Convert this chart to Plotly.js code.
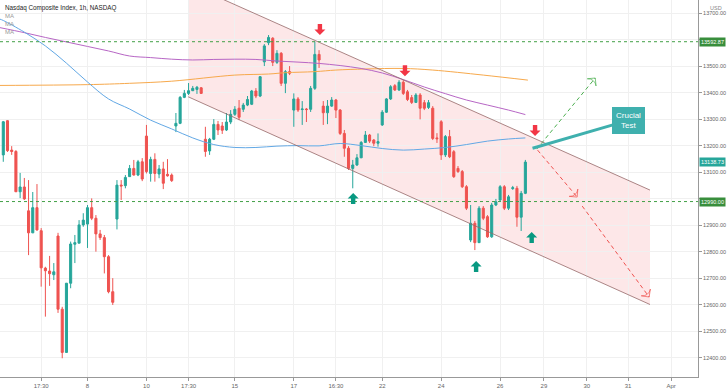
<!DOCTYPE html>
<html>
<head>
<meta charset="utf-8">
<script src="https://cdn.plot.ly/plotly-3.0.1.min.js"></script>
<style>
html,body{margin:0;padding:0;background:#fff;}
#chart{width:728px;height:391px;}
</style>
</head>
<body>
<div id="chart"></div>
<script>
// ---- candle data (1h bars, index = bar number) ----
const openV = [
13166,13295,13184,13179,13027,13045,12955,12872,12967,12880,
12739,12728,12714,12860,12584,12421,12682,12829,12833,12902,
12905,12967,12927,12868,12854,12782,12650,12924,13052,13050,
13084,13115,13090,13140,13237,13096,13149,13094,13113,13093,
13090,13275,13285,13383,13398,13408,13413,13419,13225,13181,
13225,13281,13275,13260,13290,13319,13342,13338,13354,13357,
13407,13388,13517,13589,13606,13515,13549,13436,13480,13335,
13377,13337,13339,13338,13417,13545,13350,13325,13350,13373,
13335,13247,13191,13115,13128,13155,13213,13241,13222,13210,
13279,13327,13377,13427,13411,13440,13404,13382,13364,13392,
13363,13345,13342,13230,13291,13166,13235,13178,13115,13103,
13046,12845,12908,12835,12965,12933,12857,12977,12996,13046,
12965,13039,13040,12931,13021];
const highV = [
13294,13297,13199,13184,13098,13079,13071,13026,13056,12890,
12744,12785,12758,12872,12593,12683,12839,12864,12920,12946,
12977,13002,12939,12883,12864,12788,12701,13071,13071,13090,
13128,13147,13147,13154,13279,13159,13172,13128,13140,13150,
13096,13324,13388,13411,13437,13426,13426,13422,13272,13230,
13301,13294,13290,13324,13335,13350,13373,13362,13388,13411,
13418,13463,13584,13618,13610,13561,13554,13486,13501,13398,
13384,13369,13343,13426,13593,13561,13369,13373,13384,13377,
13339,13260,13199,13147,13169,13218,13256,13245,13226,13247,
13335,13380,13429,13433,13448,13448,13411,13392,13399,13399,
13373,13373,13350,13248,13297,13241,13260,13184,13124,13109,
13052,12977,12917,12973,12973,12939,12985,13000,13052,13052,
13015,13049,13049,13030,13147];
const lowV = [
13140,13177,13166,13026,13003,12996,12788,12871,12880,12669,
12556,12672,12694,12570,12399,12419,12663,12758,12833,12895,
12815,12920,12801,12845,12719,12644,12600,12885,12996,13040,
13083,13088,13086,13067,13096,13065,13065,13078,13037,13084,
13064,13252,13282,13380,13392,13407,13396,13396,13159,13166,
13222,13241,13245,13256,13282,13313,13297,13328,13350,13354,
13380,13384,13501,13580,13501,13509,13426,13399,13467,13272,
13328,13279,13290,13328,13411,13494,13279,13282,13347,13305,
13241,13159,13109,13040,13124,13154,13211,13211,13199,13197,
13275,13324,13373,13407,13407,13392,13369,13358,13362,13300,
13335,13339,13222,13211,13147,13158,13154,13079,13098,13041,
12958,12837,12807,12834,12920,12853,12853,12973,12992,12958,
12958,13034,12895,12879,13018];
const closeV = [
13291,13182,13179,13027,13045,13000,12872,12967,12883,12740,
12729,12718,12725,12584,12421,12682,12830,12835,12902,12920,
12967,12927,12868,12854,12782,12650,12610,13052,13049,13081,
13115,13090,13140,13075,13103,13149,13096,13113,13059,13087,
13069,13285,13383,13398,13408,13417,13421,13398,13179,13225,
13281,13260,13259,13290,13319,13338,13308,13354,13375,13407,
13388,13461,13577,13609,13515,13549,13436,13480,13474,13377,
13335,13339,13337,13417,13545,13524,13325,13350,13373,13335,
13247,13191,13115,13128,13155,13213,13241,13218,13210,13216,
13327,13377,13423,13411,13440,13398,13375,13364,13392,13342,
13342,13363,13228,13227,13166,13235,13159,13084,13103,13046,
12965,12908,12835,12965,12927,12857,12977,12989,13046,12965,
13008,13042,12931,13021,13138.73];

// ---- moving averages (read at sample bars) ----
const maFastX = [-0.8,0,5,10,15,20,25,30,35,40,45,50,55,60,65,70,75,80,85,90,95,100,105,110,115,120,124];
const maFastY = [13678,13673,13629,13577,13512,13441,13377,13339,13297,13264,13230,13205,13194,13194,13199,13201,13200,13209,13201,13190,13184,13188,13194,13205,13218,13226,13230];
const maMidX = [-0.8,5,10,15,20,25,30,35,40,45,50,55,60,65,70,75,80,85,90,95,100,105,110,115,120,124];
const maMidY = [13646,13627,13609,13592,13575,13558,13539,13533,13527,13524,13526,13527,13526,13520,13516,13511,13503,13492,13475,13450,13422,13397,13373,13354,13335,13318];
const maSlowX = [-0.8,20,30,40,55,63,67,74,79,86,95,102,114,124.6];
const maSlowY = [13428,13431,13436,13444,13467,13471,13476,13480,13486,13490,13492,13486,13467,13448];

// ---- axis ticks ----
const xTickVals = [9,20,34,44,55,69,79,90,104,118,128.4,138.6,148.4,158.6];
const xTickText = ['17:30','8','10','17:30','15','17','16:30','22','24','26','29','30','31','Apr'];
const yTickVals = [12400,12500,12600,12700,12800,12900,13000,13100,13200,13300,13400,13500,13600,13700];
const yHiddenTicks = [13000,13600]; // covered by the level labels

// ---- levels & drawing annotations ----
const resistanceLevel = 13592.87;
const supportLevel = 12990.00;
const lastPrice = 13138.73;
const channelUpper = [[43.9,13811.5],[153.6,13033.3]];
const channelLower = [[43.9,13385.3],[153.6,12601.7]];
const downArrows = [[75.2,13618],[95.4,13463],[126.3,13237]];
const upArrows = [[83.1,13022],[112.3,12766],[125.5,12875]];
const bullPath = [[126.7,13188],[140.6,13456]];
const bearPath1 = [[126.9,13184],[136.3,13007]];
const bearPath2 = [[137.5,12973],[153.4,12630]];
const calloutTip = [125.7,13191];
const calloutBox = [148.6,13297];

const FONT = 'Liberation Sans, Arial, sans-serif';
const x = openV.map((_, i) => i);

const traces = [
  {type:'scatter', mode:'lines', x:maSlowX, y:maSlowY, line:{color:'#f7a94c', width:1, shape:'spline'}, hoverinfo:'skip'},
  {type:'scatter', mode:'lines', x:maMidX, y:maMidY, line:{color:'#b766c5', width:1, shape:'spline'}, hoverinfo:'skip'},
  {type:'scatter', mode:'lines', x:maFastX, y:maFastY, line:{color:'#62a8e5', width:1, shape:'spline'}, hoverinfo:'skip'},
  {type:'candlestick', x:x, open:openV, high:highV, low:lowV, close:closeV,
   increasing:{line:{color:'#26a69a', width:1}, fillcolor:'#26a69a'},
   decreasing:{line:{color:'#ef5350', width:1}, fillcolor:'#ef5350'},
   whiskerwidth:0, hoverinfo:'skip'}
];

function dashedArrow(pts, color){
  return {type:'scatter', mode:'lines+markers', x:pts.map(p=>p[0]), y:pts.map(p=>p[1]),
    line:{color:color, width:1, dash:'4px,3px'},
    marker:{symbol:['circle','arrow-wide-open'], size:[0,8], angleref:'previous', color:color, line:{color:color, width:1}},
    hoverinfo:'skip'};
}
traces.push(dashedArrow(bullPath, '#4caf50'));
traces.push(dashedArrow(bearPath1, '#ef5350'));
traces.push(dashedArrow(bearPath2, '#ef5350'));

const shapes = [];
shapes.push({type:'path', xref:'x', yref:'y', layer:'below',
  path:`M${channelUpper[0][0]},${channelUpper[0][1]} L${channelUpper[1][0]},${channelUpper[1][1]} L${channelLower[1][0]},${channelLower[1][1]} L${channelLower[0][0]},${channelLower[0][1]} Z`,
  fillcolor:'rgba(242,54,69,0.12)', line:{width:0}});
shapes.push({type:'line', xref:'x', yref:'y', x0:channelUpper[0][0], y0:channelUpper[0][1], x1:channelUpper[1][0], y1:channelUpper[1][1], line:{color:'rgba(150,105,105,0.8)', width:1}});
shapes.push({type:'line', xref:'x', yref:'y', x0:channelLower[0][0], y0:channelLower[0][1], x1:channelLower[1][0], y1:channelLower[1][1], line:{color:'rgba(150,105,105,0.8)', width:1}});
[resistanceLevel, supportLevel].forEach(v => shapes.push({type:'line', xref:'paper', yref:'y', x0:0, x1:1, y0:v, y1:v, line:{color:'#43a047', width:1, dash:'dot'}}));
downArrows.forEach(p => shapes.push({type:'path', xref:'x', yref:'y', xsizemode:'pixel', ysizemode:'pixel', xanchor:p[0], yanchor:p[1],
  path:'M0,0 L-5.5,5.5 L-2.2,5.5 L-2.2,11 L2.2,11 L2.2,5.5 L5.5,5.5 Z', fillcolor:'#f23645', line:{width:0}}));
upArrows.forEach(p => shapes.push({type:'path', xref:'x', yref:'y', xsizemode:'pixel', ysizemode:'pixel', xanchor:p[0], yanchor:p[1],
  path:'M0,0 L-5.5,-5.5 L-2.2,-5.5 L-2.2,-11 L2.2,-11 L2.2,-5.5 L5.5,-5.5 Z', fillcolor:'#089981', line:{width:0}}));

const annotations = [
  {xref:'paper', yref:'paper', x:0, y:1, xanchor:'left', yanchor:'top', xshift:3, yshift:-2, showarrow:false,
   text:'Nasdaq Composite Index, 1h, NASDAQ', font:{family:FONT, size:6.3, color:'#222'}},
  {xref:'paper', yref:'paper', x:0, y:1, xanchor:'left', yanchor:'top', xshift:3, yshift:-11, showarrow:false, text:'MA', font:{family:FONT, size:6, color:'#999'}},
  {xref:'paper', yref:'paper', x:0, y:1, xanchor:'left', yanchor:'top', xshift:3, yshift:-19, showarrow:false, text:'MA', font:{family:FONT, size:6, color:'#999'}},
  {xref:'paper', yref:'paper', x:0, y:1, xanchor:'left', yanchor:'top', xshift:3, yshift:-27, showarrow:false, text:'MA', font:{family:FONT, size:6, color:'#999'}},
  {xref:'paper', yref:'paper', x:1, y:1, xanchor:'left', yanchor:'top', xshift:10, yshift:-3, showarrow:false, text:'USD', font:{family:FONT, size:5.5, color:'#888'}},
  {xref:'paper', yref:'y', x:1, y:resistanceLevel, xanchor:'left', xshift:1, showarrow:false, text:resistanceLevel.toFixed(2), bgcolor:'#388e3c', borderpad:1, font:{family:FONT, size:5.5, color:'#fff'}},
  {xref:'paper', yref:'y', x:1, y:supportLevel, xanchor:'left', xshift:1, showarrow:false, text:supportLevel.toFixed(2), bgcolor:'#388e3c', borderpad:1, font:{family:FONT, size:5.5, color:'#fff'}},
  {xref:'paper', yref:'y', x:1, y:lastPrice, xanchor:'left', xshift:1, showarrow:false, text:lastPrice.toFixed(2), bgcolor:'#26a69a', borderpad:1, font:{family:FONT, size:5.5, color:'#fff'}},
  {xref:'x', yref:'y', x:calloutTip[0], y:calloutTip[1], axref:'x', ayref:'y', ax:calloutBox[0], ay:calloutBox[1],
   showarrow:true, arrowhead:0, arrowwidth:3, arrowcolor:'#3fb0ae', text:'Crucial<br>Test',
   bgcolor:'#3fb0ae', bordercolor:'#3fb0ae', borderpad:3, font:{family:FONT, size:8, color:'#fff'}}
];

const layout = {
  width:728, height:391,
  margin:{l:0, r:30, t:0, b:14},
  paper_bgcolor:'#fff', plot_bgcolor:'#fff',
  showlegend:false,
  xaxis:{range:[-0.78,165.0], tickvals:xTickVals, ticktext:xTickText, showgrid:true, gridcolor:'#f0f0f0',
    showline:true, linecolor:'#999', linewidth:1, ticks:'outside', ticklen:3, tickcolor:'#999',
    tickfont:{family:FONT, size:6, color:'#666'}, zeroline:false, rangeslider:{visible:false}, fixedrange:true},
  yaxis:{side:'right', range:[12328.3,13750.2], tickvals:yTickVals,
    ticktext:yTickVals.map(v => yHiddenTicks.includes(v) ? '' : v.toFixed(2)),
    showgrid:true, gridcolor:'#f0f0f0', showline:true, linecolor:'#999', linewidth:1, ticks:'outside', ticklen:3, tickcolor:'#999',
    tickfont:{family:FONT, size:5.5, color:'#666'}, zeroline:false, fixedrange:true},
  shapes:shapes, annotations:annotations
};

Plotly.newPlot('chart', traces, layout, {staticPlot:true, displayModeBar:false});
</script>
</body>
</html>
